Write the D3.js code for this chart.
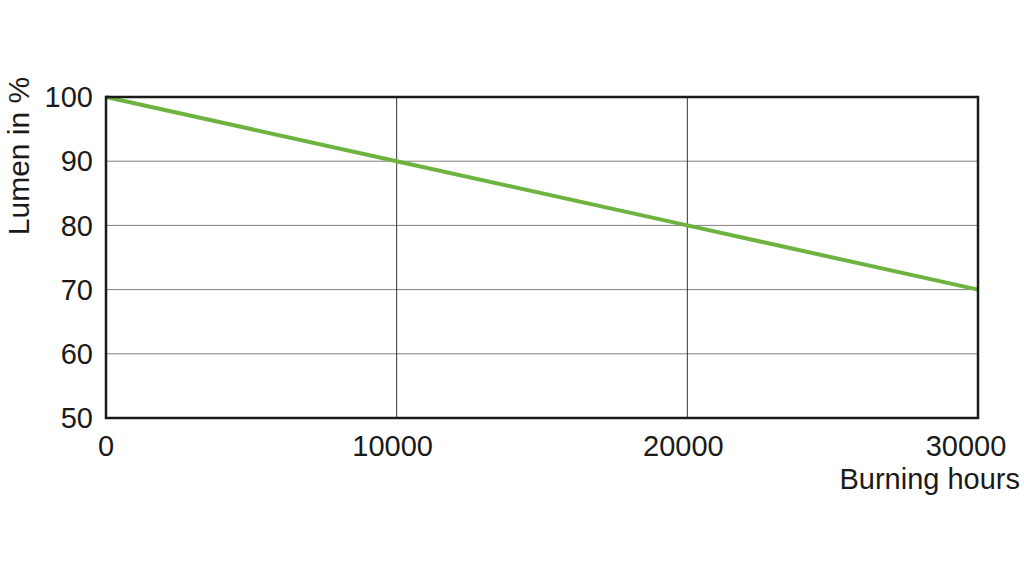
<!DOCTYPE html>
<html><head><meta charset="utf-8">
<script src="https://cdn.jsdelivr.net/npm/d3@7"></script>
<style>body{margin:0;background:#fff}svg{display:block}text{font-family:"Liberation Sans",Arial,sans-serif;fill:#1a1a1a}</style>
</head><body><svg id="c" width="1024" height="577"></svg>
<script>
const hours = [0, 10000, 20000, 30000];
const lumen = [100, 90, 80, 70];
const xTicks = [0, 10000, 20000, 30000];
const yTicks = [50, 60, 70, 80, 90, 100];

const svg = d3.select("#c");
const m = {l:106, r:978, t:97, b:418};
const x = d3.scaleLinear().domain([0, 30000]).range([m.l, m.r]);
const y = d3.scaleLinear().domain([50, 100]).range([m.b, m.t]);

// horizontal grid
svg.append("g").selectAll("line").data(yTicks).join("line")
  .attr("x1", m.l).attr("x2", m.r).attr("y1", d=>y(d)).attr("y2", d=>y(d))
  .attr("stroke", "#808080").attr("stroke-width", 1);
// vertical grid
svg.append("g").selectAll("line").data(xTicks).join("line")
  .attr("y1", m.t).attr("y2", m.b).attr("x1", d=>x(d)).attr("x2", d=>x(d))
  .attr("stroke", "#333").attr("stroke-width", 1);

// line
svg.append("path").datum(hours.map((h,i)=>[h, lumen[i]]))
  .attr("d", d3.line().x(d=>x(d[0])).y(d=>y(d[1])))
  .attr("fill","none").attr("stroke","#6db33f").attr("stroke-width",4);

// frame
svg.append("rect").attr("x", m.l).attr("y", m.t).attr("width", m.r-m.l).attr("height", m.b-m.t)
  .attr("fill","none").attr("stroke","#1a1a1a").attr("stroke-width",2.5);

const fs = 29;
svg.append("g").selectAll("text").data(yTicks).join("text")
  .attr("x", 93).attr("y", d=>y(d)).attr("dy","0.35em").attr("text-anchor","end")
  .attr("font-size", fs).text(d=>d);
const last = xTicks.length - 1;
svg.append("g").selectAll("text").data(xTicks).join("text")
  .attr("x", (d,i)=>x(d) + (i===0 ? 0 : i===last ? -12 : -4)).attr("y", 446).attr("dy","0.35em").attr("text-anchor","middle")
  .attr("font-size", fs).text(d=>d);

svg.append("text").attr("x", 1020).attr("y", 479).attr("dy","0.35em").attr("text-anchor","end")
  .attr("font-size", fs).text("Burning hours");
svg.append("text").attr("transform","translate(18,156) rotate(-90)").attr("dy","0.35em")
  .attr("text-anchor","middle").attr("font-size", 30).text("Lumen in %");
</script></body></html>
